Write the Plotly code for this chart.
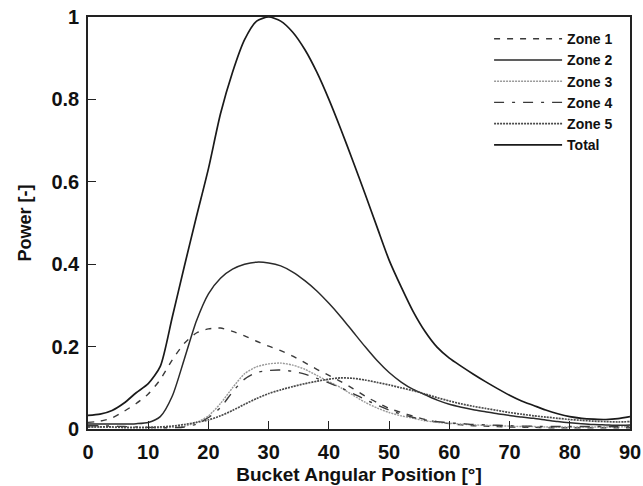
import plotly.graph_objects as go

x = [0, 2, 4, 6, 8, 10, 12, 14, 16, 18, 20, 22, 24, 26, 28, 30, 32, 34, 36, 38, 40,
     42, 44, 46, 48, 50, 52, 54, 56, 58, 60, 62, 64, 66, 68, 70, 72, 74, 76, 78, 80,
     82, 84, 86, 88, 90]

zone1 = [0.016, 0.019, 0.027, 0.043, 0.062, 0.085, 0.12, 0.168, 0.208, 0.233, 0.243, 0.245, 0.237,
         0.226, 0.213, 0.201, 0.19, 0.177, 0.161, 0.145, 0.13, 0.115, 0.098, 0.08, 0.064,
         0.05, 0.04, 0.031, 0.023, 0.017, 0.013, 0.01, 0.008, 0.007, 0.006, 0.005, 0.004,
         0.004, 0.003, 0.003, 0.003, 0.003, 0.003, 0.003, 0.003, 0.003]
zone2 = [0.012, 0.012, 0.012, 0.012, 0.013, 0.016, 0.03, 0.08, 0.17, 0.262, 0.328, 0.366, 0.388,
         0.4, 0.405, 0.403, 0.396, 0.381, 0.36, 0.335, 0.305, 0.272, 0.236, 0.2, 0.166,
         0.137, 0.114, 0.096, 0.083, 0.07, 0.06, 0.053, 0.047, 0.042, 0.037, 0.033, 0.029,
         0.026, 0.022, 0.018, 0.015, 0.013, 0.011, 0.01, 0.009, 0.01]
zone3 = [0.004, 0.004, 0.004, 0.003, 0.003, 0.003, 0.003, 0.004, 0.007, 0.016, 0.032, 0.062, 0.1,
         0.134, 0.151, 0.158, 0.16, 0.155, 0.145, 0.13, 0.115, 0.1, 0.082, 0.065, 0.051,
         0.04, 0.032, 0.026, 0.02, 0.016, 0.014, 0.012, 0.01, 0.009, 0.008, 0.007, 0.006,
         0.006, 0.005, 0.005, 0.005, 0.005, 0.005, 0.005, 0.005, 0.006]
zone4 = [0.008, 0.008, 0.007, 0.006, 0.005, 0.004, 0.003, 0.003, 0.005, 0.012, 0.028, 0.052, 0.09,
         0.121, 0.137, 0.142, 0.143, 0.14, 0.133, 0.123, 0.112, 0.1, 0.086, 0.072, 0.058,
         0.046, 0.036, 0.028, 0.022, 0.018, 0.015, 0.013, 0.011, 0.01, 0.009, 0.008, 0.007,
         0.007, 0.006, 0.006, 0.006, 0.006, 0.006, 0.006, 0.006, 0.007]
zone5 = [0.005, 0.005, 0.005, 0.004, 0.004, 0.004, 0.005, 0.007, 0.011, 0.016, 0.022, 0.032, 0.045,
         0.06, 0.074, 0.086, 0.095, 0.103, 0.11, 0.116, 0.121, 0.124, 0.123, 0.119, 0.113,
         0.107, 0.1, 0.093, 0.085, 0.076, 0.068, 0.061, 0.055, 0.05, 0.045, 0.04, 0.036,
         0.032, 0.029, 0.026, 0.023, 0.021, 0.019, 0.018, 0.017, 0.018]
total = [0.033, 0.036, 0.045, 0.063, 0.088, 0.11, 0.152, 0.272, 0.395, 0.515, 0.632, 0.765, 0.866,
         0.945, 0.99, 1.0, 0.99, 0.963, 0.921, 0.866, 0.8, 0.727, 0.65, 0.571, 0.49,
         0.41, 0.345, 0.285, 0.236, 0.198, 0.172, 0.152, 0.133, 0.115, 0.098, 0.082, 0.068,
         0.057, 0.046, 0.037, 0.03, 0.026, 0.024, 0.023, 0.025, 0.03]

series = [
    ("Zone 1", zone1, dict(color="#3a3a3a", width=1.4, dash="6px,7px")),
    ("Zone 2", zone2, dict(color="#2a2a2a", width=1.5, dash="solid")),
    ("Zone 3", zone3, dict(color="#9a9a9a", width=1.4, dash="2px,1px")),
    ("Zone 4", zone4, dict(color="#3a3a3a", width=1.4, dash="10px,8px,3px,8px")),
    ("Zone 5", zone5, dict(color="#4a4a4a", width=1.7, dash="2px,1px")),
    ("Total", total, dict(color="#1a1a1a", width=1.7, dash="solid")),
]

fig = go.Figure()
for name, ys, ln in series:
    fig.add_trace(go.Scatter(x=x, y=ys, name=name, mode="lines",
                             line=dict(shape="spline", smoothing=0.7, **ln)))

FONT = "Liberation Sans"
axis_common = dict(showgrid=False, zeroline=False, showline=True, linecolor="#222222",
                   linewidth=1.6, mirror=True, ticks="inside", ticklen=8, tickwidth=1.3,
                   tickcolor="#222222", automargin=False, ticklabeloverflow="allow",
                   tickfont=dict(family=FONT, size=20, color="#111111", weight="bold"))

fig.update_layout(
    width=643, height=486,
    margin=dict(l=88, r=13, t=17, b=57),
    paper_bgcolor="white", plot_bgcolor="white",
    showlegend=True,
    legend=dict(x=0.978, y=0.985, xanchor="right", yanchor="top",
                bgcolor="rgba(0,0,0,0)", borderwidth=0,
                font=dict(family=FONT, size=14, color="#111111", weight="bold"),
                itemwidth=68),
    xaxis=dict(range=[0, 90], tickvals=[0, 10, 20, 30, 40, 50, 60, 70, 80, 90],
               ticklabelstandoff=4,
               title=dict(text="Bucket Angular Position [°]", standoff=6,
                          font=dict(family=FONT, size=19, color="#111111", weight="bold")),
               **axis_common),
    yaxis=dict(range=[0, 1], tickvals=[0, 0.2, 0.4, 0.6, 0.8, 1],
               ticktext=["0", "0.2", "0.4", "0.6", "0.8", "1"],
               ticklabelstandoff=3,
               title=dict(text="Power [-]", standoff=15,
                          font=dict(family=FONT, size=18, color="#111111", weight="bold")),
               **axis_common),
)

fig.write_html("out.html", config={"displayModeBar": False},
               post_script="document.body.style.margin='0';")
